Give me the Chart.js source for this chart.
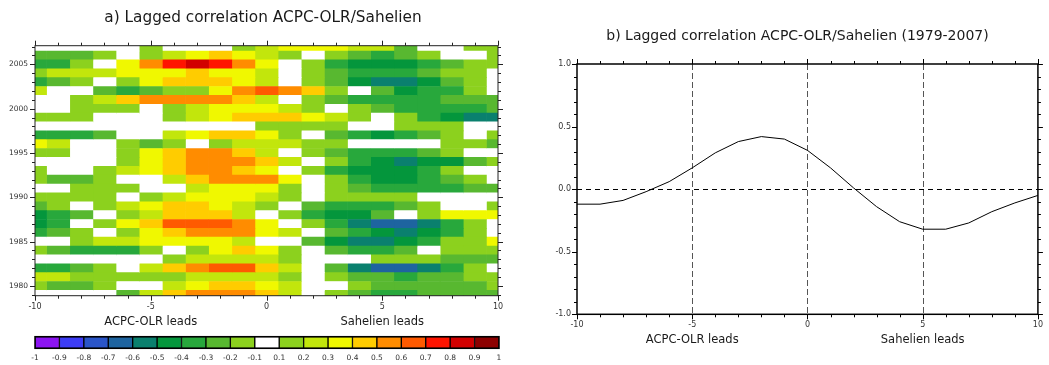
<!DOCTYPE html>
<html>
<head>
<meta charset="utf-8">
<title>Lagged correlation ACPC-OLR/Sahelien</title>
<script src="https://cdn.jsdelivr.net/npm/chart.js@4.4.1/dist/chart.umd.min.js"></script>
<style>
  html, body { margin: 0; padding: 0; background: #fff; }
  body { position: relative; width: 1049px; height: 365px; overflow: hidden; }
  .panel { position: absolute; }
  #mapWrap { left: 0; top: 0; width: 526px; height: 330px; }
  #barWrap { left: 0; top: 330px; width: 526px; height: 35px; }
  #lineWrap { left: 546px; top: 0; width: 503px; height: 365px; }
</style>
</head>
<body>
<div class="panel" id="mapWrap"><canvas id="mapChart"></canvas></div>
<div class="panel" id="barWrap"><canvas id="barChart"></canvas></div>
<div class="panel" id="lineWrap"><canvas id="lineChart"></canvas></div>
<script>
const FONT = '"DejaVu Sans", sans-serif';

const lags = [-10, -9, -8, -7, -6, -5, -4, -3, -2, -1, 0, 1, 2, 3, 4, 5, 6, 7, 8, 9, 10];
const years = [2007, 2006, 2005, 2004, 2003, 2002, 2001, 2000, 1999, 1998, 1997, 1996, 1995, 1994,
    1993, 1992, 1991, 1990, 1989, 1988, 1987, 1986, 1985, 1984, 1983, 1982, 1981, 1980, 1979];

// one row per year (same order as years), one value per lag
const corr = [
    [0, 0, 0, 0, 0, 0.15, 0, 0, 0, 0.15, 0.25, 0.35, 0.35, 0.35, 0.25, 0.25, -0.25, 0, 0, -0.15, -0.15],
    [-0.25, -0.25, -0.25, -0.15, 0, 0.15, 0.25, 0.35, 0.45, 0.35, 0.25, 0.15, 0, -0.15, -0.25, -0.35, -0.25, -0.15, 0, 0, -0.15],
    [-0.35, -0.35, -0.15, 0, 0.35, 0.55, 0.75, 0.85, 0.75, 0.55, 0.35, 0, -0.15, -0.35, -0.45, -0.45, -0.45, -0.35, -0.25, -0.15, -0.15],
    [0.15, 0.25, 0.25, 0.25, 0.35, 0.35, 0.35, 0.45, 0.35, 0.35, 0.25, 0, -0.15, -0.25, -0.35, -0.35, -0.35, -0.25, -0.15, -0.15, 0],
    [-0.35, -0.25, -0.15, 0, 0.15, 0.35, 0.45, 0.45, 0.45, 0.35, 0.25, 0, -0.15, -0.25, -0.45, -0.55, -0.55, -0.45, -0.25, -0.15, 0],
    [0.25, 0, 0, -0.25, -0.35, -0.25, -0.15, 0.15, 0.35, 0.55, 0.65, 0.55, 0.45, 0.15, 0, -0.25, -0.45, -0.35, -0.35, -0.15, 0],
    [0, 0, 0.15, 0.25, 0.45, 0.55, 0.55, 0.55, 0.55, 0.45, 0.25, 0, -0.15, -0.25, -0.35, -0.35, -0.35, -0.35, -0.25, -0.25, -0.25],
    [0, 0, 0.15, 0.15, 0.15, 0, 0.15, 0.25, 0.35, 0.35, 0.35, 0.25, 0.15, 0, -0.15, -0.25, -0.35, -0.35, -0.35, -0.35, -0.25],
    [0.15, 0.15, 0.15, 0, 0, 0, 0.15, 0.25, 0.35, 0.45, 0.45, 0.45, 0.35, 0.25, 0.15, 0, -0.15, -0.35, -0.45, -0.55, -0.55],
    [0, 0, 0, 0, 0, 0, 0, 0, 0, 0, 0.15, 0.15, 0.15, 0.15, 0, 0, -0.15, -0.15, -0.15, 0, 0],
    [-0.35, -0.35, -0.35, -0.25, 0, 0, 0.25, 0.35, 0.45, 0.45, 0.35, 0.15, 0, -0.25, -0.35, -0.45, -0.35, -0.25, -0.15, 0, -0.15],
    [0.35, 0.25, 0, 0, -0.15, -0.25, 0.15, 0, 0.15, 0.25, 0.25, 0.25, 0.15, 0.15, 0, 0, 0, 0, -0.15, -0.15, -0.25],
    [-0.15, -0.15, 0, 0, 0.15, 0.35, 0.45, 0.55, 0.55, 0.45, 0.25, 0, -0.15, -0.25, -0.35, -0.35, -0.35, -0.25, -0.15, 0, 0],
    [0, 0, 0, 0, 0.15, 0.35, 0.45, 0.55, 0.55, 0.55, 0.45, 0.25, 0, -0.15, -0.35, -0.45, -0.55, -0.45, -0.45, -0.25, -0.15],
    [-0.15, 0, 0, 0.15, 0.25, 0.35, 0.45, 0.55, 0.55, 0.45, 0.35, 0, -0.15, -0.35, -0.45, -0.45, -0.45, -0.35, -0.15, 0, 0],
    [-0.15, -0.25, -0.25, -0.15, 0, 0, 0.25, 0.45, 0.55, 0.55, 0.55, 0.35, 0, -0.15, -0.35, -0.45, -0.45, -0.35, -0.25, -0.15, 0],
    [0, 0, 0.15, 0.15, 0.15, 0, 0, 0.25, 0.35, 0.35, 0.35, 0.15, 0, -0.15, -0.25, -0.35, -0.35, -0.35, -0.35, -0.25, -0.25],
    [0.15, 0.15, 0.15, 0.15, 0, 0.15, 0.25, 0.35, 0.35, 0.35, 0.25, 0.15, 0, -0.15, -0.15, -0.15, -0.15, 0, 0, 0, 0],
    [-0.25, -0.15, 0, 0.15, 0.25, 0.35, 0.45, 0.45, 0.35, 0.25, 0.15, 0, -0.25, -0.35, -0.35, -0.35, -0.25, -0.15, 0, 0, -0.15],
    [-0.45, -0.35, -0.25, 0, 0.15, 0.25, 0.45, 0.45, 0.45, 0.25, 0, -0.15, -0.35, -0.45, -0.45, -0.25, 0, 0.15, 0.35, 0.35, 0.35],
    [-0.45, -0.35, 0, 0.15, 0.35, 0.45, 0.65, 0.65, 0.65, 0.55, 0.35, 0, -0.15, -0.35, -0.55, -0.65, -0.65, -0.55, -0.35, -0.15, 0],
    [-0.35, -0.25, -0.15, 0, 0.15, 0.35, 0.45, 0.55, 0.55, 0.55, 0.35, 0.25, 0, -0.25, -0.35, -0.45, -0.55, -0.45, -0.35, -0.15, 0],
    [0, 0, 0.15, 0.25, 0.25, 0.35, 0.35, 0.35, 0.35, 0.25, 0, 0, -0.25, -0.45, -0.55, -0.55, -0.45, -0.35, -0.15, -0.15, 0.35],
    [-0.15, -0.25, -0.35, -0.35, -0.35, -0.15, 0, 0.15, 0.35, 0.45, 0.35, 0.15, 0, -0.25, -0.35, -0.35, -0.25, 0, -0.15, -0.15, -0.15],
    [0, 0, 0, 0, 0, 0, 0.15, 0.25, 0.25, 0.25, 0.25, 0.15, 0, 0, 0, -0.15, -0.15, -0.15, -0.25, -0.25, -0.25],
    [-0.35, -0.35, -0.25, -0.15, 0, 0.25, 0.45, 0.55, 0.65, 0.65, 0.45, 0.25, 0, -0.25, -0.55, -0.65, -0.65, -0.55, -0.35, -0.15, 0],
    [0.25, 0.25, 0.15, 0.15, 0.15, 0.15, 0.15, 0.25, 0.25, 0.25, 0.25, 0.15, 0, -0.15, -0.25, -0.25, -0.35, -0.25, -0.25, -0.15, -0.15],
    [-0.15, -0.25, -0.25, -0.15, 0, 0, 0.25, 0.35, 0.45, 0.45, 0.35, 0.25, 0, 0, -0.15, -0.25, -0.25, -0.25, -0.25, -0.25, -0.15],
    [0, 0, 0, 0, -0.25, 0.25, 0.45, 0.55, 0.55, 0.55, 0.45, 0.25, 0, -0.15, -0.25, -0.35, -0.35, -0.25, -0.25, -0.25, -0.25]
];

// 1979-2007 lagged correlation curve
const meanCorr = [-0.12, -0.12, -0.09, -0.02, 0.06, 0.17, 0.29, 0.38, 0.42, 0.40, 0.31,
    0.17, 0.01, -0.14, -0.26, -0.32, -0.32, -0.27, -0.18, -0.11, -0.05];

const levelEdges = [-1, -0.9, -0.8, -0.7, -0.6, -0.5, -0.4, -0.3, -0.2, -0.1,
    0.1, 0.2, 0.3, 0.4, 0.5, 0.6, 0.7, 0.8, 0.9, 1];
const levelColors = ["#8c14f2", "#3c3cf5", "#2a55c8", "#1e64a0", "#0a806e", "#04963c", "#28a83c",
    "#58b830", "#8cd11e", "#ffffff", "#8cd11e", "#c2e60c", "#f0f800", "#ffcc00", "#ff8c00",
    "#ff5a00", "#ff1400", "#d20000", "#8c0000"];

const corrTicks = [-1, -0.9, -0.8, -0.7, -0.6, -0.5, -0.4, -0.3, -0.2, -0.1, 0,
    0.1, 0.2, 0.3, 0.4, 0.5, 0.6, 0.7, 0.8, 0.9, 1];
const refLags = [-5, 0, 5];
const leadLags = [-5, 5];
const leadTexts = ["ACPC-OLR leads", "Sahelien leads"];

const colorFor = (v) => {
    for (let i = 0; i < levelColors.length; i++) {
        if (v < levelEdges[i + 1]) return levelColors[i];
    }
    return levelColors[levelColors.length - 1];
};

const isMajor = (v, step) => Math.abs(v / step - Math.round(v / step)) < 1e-6;

// ---- small drawing plugins ----
const panelTitle = {
    id: "panelTitle",
    afterDraw(chart, args, o) {
        if (!o || !o.text) return;
        const ctx = chart.ctx;
        ctx.save();
        ctx.font = `${o.size}px ${FONT}`;
        ctx.fillStyle = "#1a1a1a";
        ctx.textAlign = "center";
        ctx.textBaseline = "middle";
        ctx.fillText(o.text, o.x, o.y);
        ctx.restore();
    }
};

const frameTicks = {
    id: "frameTicks",
    afterDraw(chart, args, o) {
        if (!o || !o.on) return;
        const { ctx, chartArea: a } = chart;
        const x = chart.scales.x, y = chart.scales.y;
        ctx.save();
        ctx.strokeStyle = o.color;
        ctx.lineWidth = 1;
        ctx.beginPath();
        x.ticks.forEach(t => {
            const p = Math.round(x.getPixelForValue(t.value)) + 0.5;
            const n = isMajor(t.value, o.xStep) ? o.major : o.minor;
            ctx.moveTo(p, a.bottom); ctx.lineTo(p, a.bottom + n);
            ctx.moveTo(p, a.top); ctx.lineTo(p, a.top - n);
        });
        y.ticks.forEach(t => {
            const p = Math.round(y.getPixelForValue(t.value)) + 0.5;
            const n = isMajor(t.value, o.yStep) ? o.major : o.minor;
            ctx.moveTo(a.left, p); ctx.lineTo(a.left - n, p);
            ctx.moveTo(a.right, p); ctx.lineTo(a.right + n, p);
        });
        ctx.stroke();
        ctx.lineWidth = o.width;
        ctx.strokeRect(a.left, a.top, a.right - a.left, a.bottom - a.top);
        ctx.restore();
    }
};

const refLines = {
    id: "refLines",
    beforeDatasetsDraw(chart, args, o) {
        if (!o || !o.on) return;
        const { ctx, chartArea: a, scales: { x, y } } = chart;
        ctx.save();
        ctx.lineWidth = 1;
        ctx.strokeStyle = "#555";
        ctx.setLineDash([6, 3]);
        refLags.forEach(l => {
            const p = Math.round(x.getPixelForValue(l)) + 0.5;
            ctx.beginPath(); ctx.moveTo(p, a.top); ctx.lineTo(p, a.bottom); ctx.stroke();
        });
        ctx.strokeStyle = "#000";
        ctx.setLineDash([5, 4]);
        const z = Math.round(y.getPixelForValue(0)) + 0.5;
        ctx.beginPath(); ctx.moveTo(a.left, z); ctx.lineTo(a.right, z); ctx.stroke();
        ctx.restore();
    }
};

const leadLabels = {
    id: "leadLabels",
    afterDraw(chart, args, o) {
        if (!o || !o.on) return;
        const { ctx, chartArea: a, scales: { x } } = chart;
        ctx.save();
        ctx.font = `${o.size}px ${FONT}`;
        ctx.fillStyle = "#1a1a1a";
        ctx.textAlign = "center";
        ctx.textBaseline = "middle";
        leadLags.forEach((l, i) => ctx.fillText(leadTexts[i], x.getPixelForValue(l), a.bottom + o.offset));
        ctx.restore();
    }
};

Chart.register(panelTitle, frameTicks, refLines, leadLabels);
Chart.defaults.font.family = FONT;
Chart.defaults.color = "#333";
Chart.defaults.animation = false;

const noLegend = { legend: { display: false }, tooltip: { enabled: false } };

// ---- a) heat map: floating bars, one dataset per lag ----
new Chart(document.getElementById("mapChart"), {
    type: "bar",
    data: {
        datasets: lags.map((lag, j) => ({
            label: String(lag),
            data: years.map(yr => ({ y: yr, x: [lag - 0.5, lag + 0.5] })),
            backgroundColor: corr.map(row => colorFor(row[j])),
            borderWidth: 0,
            grouped: false,
            categoryPercentage: 1,
            barPercentage: 1,
            clip: 0
        }))
    },
    options: {
        indexAxis: "y",
        responsive: true,
        maintainAspectRatio: false,
        layout: { padding: { top: 45.7, right: 28, left: 0, bottom: 0 } },
        scales: {
            x: {
                type: "linear", min: -10, max: 10, offset: false,
                grid: { display: false, drawTicks: false }, border: { display: false },
                afterBuildTicks: s => { s.ticks = lags.map(v => ({ value: v })); },
                afterFit: s => { s.height = 34.3; },
                ticks: { autoSkip: false, maxRotation: 0, padding: 6, font: { size: 8 },
                    callback: v => (v % 5 === 0 ? String(v) : "") }
            },
            y: {
                type: "linear", min: 1978.9, max: 2007.1, offset: false,
                grid: { display: false, drawTicks: false }, border: { display: false },
                afterBuildTicks: s => { s.ticks = years.slice().reverse().map(v => ({ value: v })); },
                afterFit: s => { s.width = 35; },
                ticks: { autoSkip: false, padding: 7, font: { size: 7.5 },
                    callback: v => (v % 5 === 0 ? String(v) : "") }
            }
        },
        plugins: {
            ...noLegend,
            panelTitle: { text: "a) Lagged correlation ACPC-OLR/Sahelien", x: 263, y: 18, size: 15.3 },
            frameTicks: { on: true, xStep: 5, yStep: 5, major: 5, minor: 3, width: 1, color: "#222" },
            leadLabels: { on: true, offset: 26, size: 11.5 }
        }
    }
});

// ---- colour bar ----
new Chart(document.getElementById("barChart"), {
    type: "bar",
    data: {
        datasets: [{
            data: levelColors.map((c, i) => ({ x: i + 0.5, y: [0, 1] })),
            backgroundColor: levelColors,
            borderColor: "#000",
            borderWidth: 1,
            borderSkipped: false,
            grouped: false,
            categoryPercentage: 1,
            barPercentage: 1
        }]
    },
    options: {
        responsive: true,
        maintainAspectRatio: false,
        layout: { padding: { top: 6.7, right: 27, left: 35, bottom: 0 } },
        scales: {
            x: {
                type: "linear", min: 0, max: levelColors.length, offset: false,
                grid: { display: false, drawTicks: false }, border: { display: false },
                afterBuildTicks: s => { s.ticks = levelEdges.map((e, i) => ({ value: i })); },
                afterFit: s => { s.height = 16.7; },
                ticks: { autoSkip: false, maxRotation: 0, padding: 5, font: { size: 7.5 },
                    callback: (v, i) => String(levelEdges[i]) }
            },
            y: { display: false, min: 0, max: 1 }
        },
        plugins: {
            ...noLegend,
            frameTicks: { on: true, xStep: 1, yStep: 1, major: 0, minor: 0, width: 1.5, color: "#000" }
        }
    }
});

// ---- b) lagged correlation curve ----
new Chart(document.getElementById("lineChart"), {
    type: "line",
    data: {
        datasets: [{
            data: lags.map((l, i) => ({ x: l, y: meanCorr[i] })),
            borderColor: "#000",
            borderWidth: 1,
            pointRadius: 0,
            tension: 0,
            fill: false
        }]
    },
    options: {
        responsive: true,
        maintainAspectRatio: false,
        layout: { padding: { top: 64, right: 4, left: 0, bottom: 0 } },
        scales: {
            x: {
                type: "linear", min: -10, max: 10,
                grid: { display: false, drawTicks: false }, border: { display: false },
                afterBuildTicks: s => { s.ticks = lags.map(v => ({ value: v })); },
                afterFit: s => { s.height = 50.7; },
                ticks: { autoSkip: false, maxRotation: 0, padding: 6, font: { size: 8 },
                    callback: v => (v % 5 === 0 ? String(v) : "") }
            },
            y: {
                type: "linear", min: -1, max: 1,
                grid: { display: false, drawTicks: false }, border: { display: false },
                afterBuildTicks: s => { s.ticks = corrTicks.map(v => ({ value: v })); },
                afterFit: s => { s.width = 31; },
                ticks: { autoSkip: false, padding: 6, font: { size: 8 },
                    callback: v => (isMajor(v, 0.5) ? v.toFixed(1) : "") }
            }
        },
        plugins: {
            ...noLegend,
            panelTitle: { text: "b) Lagged correlation ACPC-OLR/Sahelien (1979-2007)", x: 251.5, y: 36, size: 14 },
            frameTicks: { on: true, xStep: 5, yStep: 0.5, major: 5, minor: 3, width: 1.5, color: "#000" },
            refLines: { on: true },
            leadLabels: { on: true, offset: 26, size: 11.5 }
        }
    }
});
</script>
</body>
</html>
